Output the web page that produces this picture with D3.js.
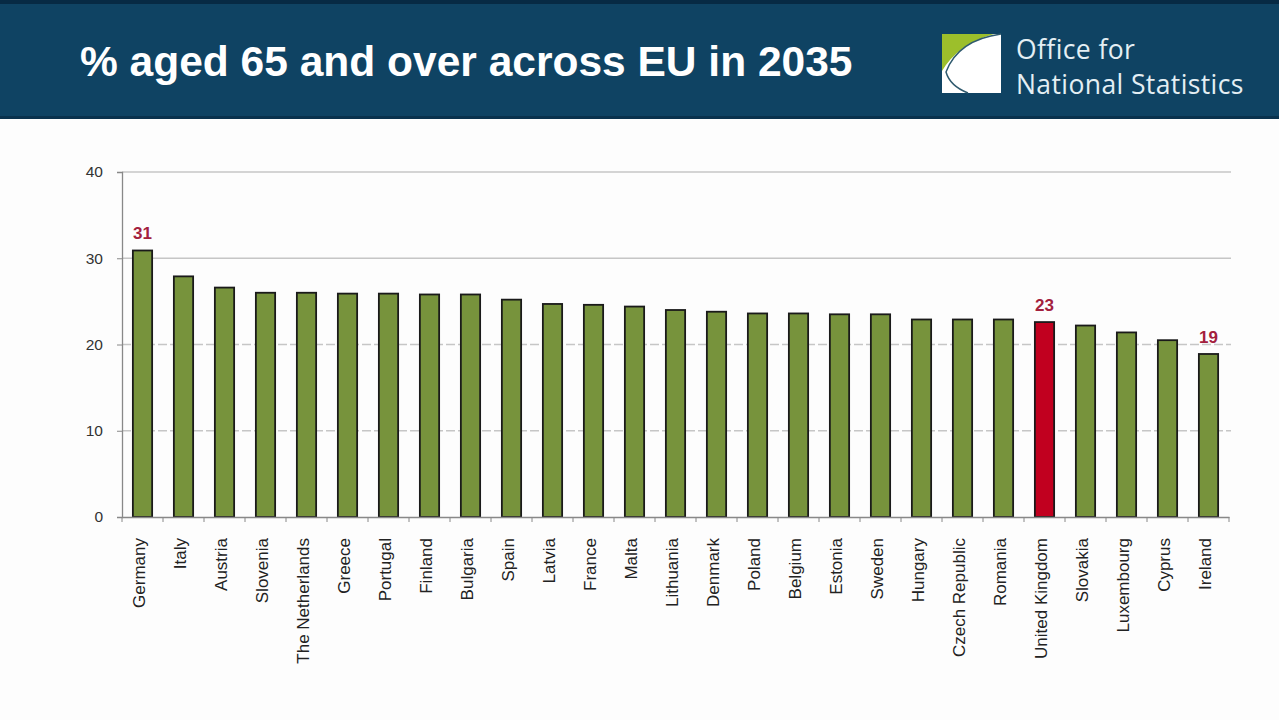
<!DOCTYPE html>
<html>
<head>
<meta charset="utf-8">
<script src="https://cdn.jsdelivr.net/npm/d3@7"></script>
<style>
  body { margin: 0; background: #fdfdfd; }
  svg { display: block; }
</style>
</head>
<body>
<div id="chart"></div>
<script>
const COUNTRIES = ["Germany", "Italy", "Austria", "Slovenia", "The Netherlands", "Greece", "Portugal",
  "Finland", "Bulgaria", "Spain", "Latvia", "France", "Malta", "Lithuania", "Denmark", "Poland",
  "Belgium", "Estonia", "Sweden", "Hungary", "Czech Republic", "Romania", "United Kingdom",
  "Slovakia", "Luxembourg", "Cyprus", "Ireland"];
const PCT_65 = [30.9, 27.9, 26.6, 26.0, 26.0, 25.9, 25.9, 25.8, 25.8, 25.2, 24.7, 24.6, 24.4, 24.0,
  23.8, 23.6, 23.6, 23.5, 23.5, 22.9, 22.9, 22.9, 22.6, 22.2, 21.4, 20.5, 18.9];
const Y_TICKS = [0, 10, 20, 30, 40];
const LABELLED = ["Germany", "United Kingdom", "Ireland"];
const HIGHLIGHT = "United Kingdom";

const WIDTH = 1279;
const HEIGHT = 720;
const FONT = 'Liberation Sans, Arial, sans-serif';

const dataset = COUNTRIES.map((c, i) => ({ country: c, value: PCT_65[i] }));

let svg = d3.select('#chart')
            .append('svg')
            .attr('width', WIDTH)
            .attr('height', HEIGHT);

svg.append('rect')
   .attr('width', WIDTH).attr('height', HEIGHT)
   .attr('fill', '#fdfdfd');

// header band
svg.append('rect')
   .attr('x', 0).attr('y', 0)
   .attr('width', WIDTH).attr('height', 119)
   .attr('fill', '#0f4363');
svg.append('rect')
   .attr('x', 0).attr('y', 0)
   .attr('width', WIDTH).attr('height', 4)
   .attr('fill', '#072a44');
svg.append('rect')
   .attr('x', 0).attr('y', 116)
   .attr('width', WIDTH).attr('height', 3)
   .attr('fill', '#0a324d');

svg.append('text')
   .attr('x', 80)
   .attr('y', 76)
   .attr('font-family', FONT)
   .attr('font-weight', 'bold')
   .attr('font-size', 42.5)
   .attr('fill', '#ffffff')
   .text('% aged 65 and over across EU in 2035');

// logo
let logo = svg.append('g');
logo.append('rect')
    .attr('x', 942).attr('y', 34)
    .attr('width', 59).attr('height', 59)
    .attr('fill', '#ffffff');
logo.append('path')
    .attr('d', 'M942,34 L994,34 Q958,44 942,71 Z')
    .attr('fill', '#9cbf2b');
logo.append('path')
    .attr('d', 'M1001,34 Q958,40 946,72 Q950,86 968,93')
    .attr('fill', 'none')
    .attr('stroke', '#2f5a6e')
    .attr('stroke-width', 1.5);
logo.append('text')
    .attr('x', 1016).attr('y', 59)
    .attr('font-family', 'Open Sans, Noto Sans, sans-serif')
    .attr('font-size', 26.5)
    .attr('letter-spacing', 0.4)
    .attr('fill', '#e4eff4')
    .text('Office for');
logo.append('text')
    .attr('x', 1016).attr('y', 94)
    .attr('font-family', 'Open Sans, Noto Sans, sans-serif')
    .attr('font-size', 26.5)
    .attr('letter-spacing', 0.4)
    .attr('fill', '#e4eff4')
    .text('National Statistics');

// scales
const X_SCALE = d3.scaleBand()
                  .domain(COUNTRIES)
                  .range([122, 1229])
                  .paddingInner(0.53)
                  .paddingOuter(0.265);
const Y_SCALE = d3.scaleLinear()
                  .domain([0, 40])
                  .range([517, 172]);

// gridlines
svg.append('g')
   .selectAll('line')
   .data(Y_TICKS.filter(t => t > 0))
   .enter()
   .append('line')
   .attr('x1', 122).attr('x2', 1231)
   .attr('y1', d => Y_SCALE(d)).attr('y2', d => Y_SCALE(d))
   .attr('stroke', '#c6c6c6')
   .attr('stroke-width', 1.5)
   .attr('stroke-dasharray', d => d >= 30 ? null : '9,3');

// y axis
const Y_AXIS = d3.axisLeft(Y_SCALE).tickValues(Y_TICKS).tickSize(5).tickPadding(14);
let yAxis = svg.append('g')
   .attr('transform', 'translate(122,0)')
   .call(Y_AXIS);
yAxis.select('.domain').attr('stroke', '#888').attr('stroke-width', 1.3);
yAxis.selectAll('.tick line').attr('stroke', '#888');
yAxis.selectAll('.tick text')
     .attr('font-family', FONT)
     .attr('font-size', 15.5)
     .attr('fill', '#333');

// bars
svg.selectAll('.bar')
   .data(dataset)
   .enter()
   .append('rect')
   .attr('class', 'bar')
   .attr('x', d => X_SCALE(d.country))
   .attr('y', d => Y_SCALE(d.value))
   .attr('width', X_SCALE.bandwidth())
   .attr('height', d => Y_SCALE(0) - Y_SCALE(d.value))
   .attr('fill', d => d.country === HIGHLIGHT ? '#c1001f' : '#77933c')
   .attr('stroke', '#1a1a1a')
   .attr('stroke-width', 1.8);

// value labels
svg.selectAll('.val')
   .data(dataset.filter(d => LABELLED.includes(d.country)))
   .enter()
   .append('text')
   .attr('class', 'val')
   .attr('x', d => X_SCALE(d.country) + X_SCALE.bandwidth() / 2)
   .attr('y', d => Y_SCALE(d.value) - 11)
   .attr('text-anchor', 'middle')
   .attr('font-family', FONT)
   .attr('font-weight', 'bold')
   .attr('font-size', 17)
   .attr('fill', '#a3203d')
   .text(d => Math.round(d.value));

// x axis
const X_AXIS = d3.axisBottom(X_SCALE).tickSize(0).tickPadding(0);
let xAxis = svg.append('g')
   .attr('transform', 'translate(0,' + Y_SCALE(0) + ')')
   .call(X_AXIS);
xAxis.select('.domain').attr('stroke', '#888').attr('stroke-width', 1.3);
xAxis.selectAll('.tick text')
     .attr('font-family', FONT)
     .attr('font-size', 17)
     .attr('fill', '#222')
     .attr('text-anchor', 'end')
     .attr('transform', 'translate(-3,21) rotate(-90)')
     .attr('dy', '0.35em')
     .attr('y', 0)
     .attr('x', 0);

// ticks between categories
const STEP = X_SCALE.step();
svg.append('g')
   .selectAll('line')
   .data(COUNTRIES.concat(['_end']))
   .enter()
   .append('line')
   .attr('x1', (d, i) => X_SCALE(COUNTRIES[0]) - STEP * X_SCALE.paddingInner() / 2 + i * STEP)
   .attr('x2', (d, i) => X_SCALE(COUNTRIES[0]) - STEP * X_SCALE.paddingInner() / 2 + i * STEP)
   .attr('y1', Y_SCALE(0))
   .attr('y2', Y_SCALE(0) + 5)
   .attr('stroke', '#888');
</script>
</body>
</html>
